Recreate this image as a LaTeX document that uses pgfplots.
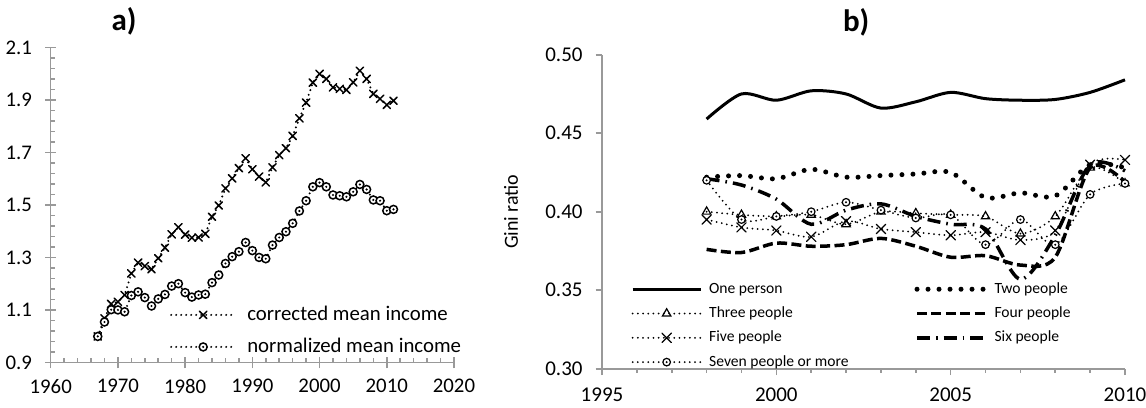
\documentclass[border=0pt]{standalone}
\usepackage{fontspec}
\setmainfont{Carlito}
\usepackage{pgfplots}
\usepackage{pgfplotstable}
\pgfplotsset{compat=1.18}
\pgfdeclareplotmark{odot}{%
  \pgfpathcircle{\pgfpointorigin}{\pgfplotmarksize}%
  \pgfusepathqfillstroke
  \pgfscope
  \pgfsetfillcolor{black}%
  \pgfpathcircle{\pgfpointorigin}{0.3\pgfplotmarksize}%
  \pgfusepathqfill
  \endpgfscope
}
\tikzset{
  leftdots/.style={line width=1.1pt, dash pattern=on 0pt off 2.5pt, line cap=round},
  smalldots/.style={line width=1pt, dash pattern=on 0pt off 2.6pt, line cap=round},
  bigdots/.style={line width=2.5pt, dash pattern=on 0pt off 5.5pt, line cap=round},
  bigdash/.style={line width=1.75pt, dash pattern=on 5pt off 2.2pt},
  dashdot/.style={line width=1.75pt, dash pattern=on 6.5pt off 3pt on 0.8pt off 3pt},
}
\pgfplotstableread{
year corr norm
1967 1.000 1.000
1968 1.069 1.055
1969 1.124 1.102
1970 1.132 1.101
1971 1.158 1.094
1972 1.240 1.156
1973 1.281 1.170
1974 1.268 1.148
1975 1.256 1.116
1976 1.298 1.143
1977 1.338 1.160
1978 1.389 1.192
1979 1.416 1.201
1980 1.388 1.167
1981 1.376 1.150
1982 1.377 1.158
1983 1.391 1.161
1984 1.456 1.205
1985 1.499 1.234
1986 1.564 1.278
1987 1.602 1.304
1988 1.641 1.323
1989 1.679 1.358
1990 1.637 1.327
1991 1.609 1.301
1992 1.587 1.296
1993 1.644 1.348
1994 1.691 1.377
1995 1.717 1.399
1996 1.764 1.431
1997 1.831 1.478
1998 1.891 1.517
1999 1.967 1.570
2000 2.000 1.586
2001 1.981 1.570
2002 1.949 1.539
2003 1.943 1.536
2004 1.939 1.532
2005 1.968 1.551
2006 2.012 1.579
2007 1.981 1.560
2008 1.924 1.520
2009 1.905 1.517
2010 1.882 1.479
2011 1.898 1.484
}\leftdata
\pgfplotstableread{
year one two three four five six seven
1998 0.459 0.422 0.400 0.376 0.395 0.421 0.420
1999 0.475 0.423 0.398 0.374 0.390 0.417 0.395
2000 0.471 0.421 0.397 0.380 0.388 0.408 0.397
2001 0.477 0.427 0.398 0.378 0.384 0.392 0.400
2002 0.475 0.422 0.392 0.379 0.394 0.401 0.406
2003 0.466 0.423 0.400 0.383 0.389 0.405 0.401
2004 0.470 0.424 0.399 0.378 0.387 0.397 0.396
2005 0.476 0.425 0.398 0.371 0.385 0.392 0.398
2006 0.472 0.409 0.397 0.372 0.387 0.389 0.379
2007 0.471 0.412 0.386 0.366 0.382 0.357 0.395
2008 0.4715 0.410 0.397 0.371 0.388 0.385 0.379
2009 0.476 0.430 0.428 0.428 0.430 0.430 0.411
2010 0.484 0.428 0.418 0.419 0.433 0.426 0.418
}\rightdata
\begin{document}
\begin{tikzpicture}
\path[use as bounding box] (0,0) rectangle (573pt,203.5pt);
\begin{axis}[
  at={(25.35pt,22.15pt)}, anchor=south west,
  scale only axis, width=201.65pt, height=157.5pt,
  xmin=1960, xmax=2020, ymin=0.9, ymax=2.1,
  xtick={1960,1970,1980,1990,2000,2010,2020},
  ytick={0.9,1.1,1.3,1.5,1.7,1.9,2.1},
  minor x tick num=4, minor y tick num=4,
  axis x line*=bottom, axis y line*=left,
  axis line style={color=black!40, line width=0.8pt},
  every tick/.style={color=black!40, line width=0.8pt},
  tick align=center,
  major tick length=5.6pt, minor tick length=2.2pt,
  minor x tick style={yshift=1.1pt},
  minor y tick style={xshift=1.1pt},
  tick label style={font=\fontsize{10.4}{12}\selectfont},
  /pgf/number format/assume math mode=true,
  xticklabel style={yshift=-2pt, /pgf/number format/set thousands separator={}},
  yticklabel style={xshift=-3pt, /pgf/number format/.cd, fixed, fixed zerofill, precision=1},
  title={\fontsize{15.5}{18}\selectfont\bfseries a)},
  title style={at={(0.182,1)}, anchor=center, yshift=7pt},
  legend style={at={(axis description cs:0.295,0.19)}, anchor=north west, draw=none, fill=none,
    font=\fontsize{10.4}{12}\selectfont, row sep=4.3pt, inner sep=0pt,
    nodes={inner sep=1pt, text height=7.5pt, text depth=2.2pt},
    /tikz/every odd column/.append style={column sep=4.5pt}},
  legend cell align=left,
  legend image code/.code={\draw[mark repeat=2,mark phase=2,#1] plot coordinates {(0pt,0pt) (16pt,0pt) (32pt,0pt)};},
  clip=false,
]
\addplot[black, leftdots, mark=x, mark size=2.6pt, mark options={solid, line width=0.75pt}] table[x=year, y=corr] {\leftdata};
\addlegendentry{corrected mean income}
\addplot[black, leftdots, mark=odot, mark size=2pt, mark options={solid, fill=white, line width=0.75pt}] table[x=year, y=norm] {\leftdata};
\addlegendentry{normalized mean income}
\end{axis}
\begin{axis}[
  at={(301pt,19.15pt)}, anchor=south west,
  scale only axis, width=261.5pt, height=157pt,
  xmin=1995, xmax=2010, ymin=0.30, ymax=0.50,
  xtick={1995,2000,2005,2010},
  ytick={0.30,0.35,0.40,0.45,0.50},
  minor x tick num=4,
  axis x line*=bottom, axis y line*=left,
  axis line style={color=black!40, line width=0.8pt},
  every tick/.style={color=black!40, line width=0.8pt},
  tick align=outside,
  major tick length=3.2pt, minor tick length=2pt,
  tick label style={font=\fontsize{10.5}{12}\selectfont},
  /pgf/number format/assume math mode=true,
  xticklabel style={yshift=-3pt, /pgf/number format/set thousands separator={}},
  yticklabel style={xshift=-3pt, /pgf/number format/.cd, fixed, fixed zerofill, precision=2},
  title={\fontsize{15.5}{18}\selectfont\bfseries b)},
  title style={at={(0.486,1)}, anchor=center, yshift=10.3pt},
  ylabel={Gini ratio},
  ylabel style={at={(axis description cs:-0.174,0.5)}, anchor=center, font=\fontsize{10}{12}\selectfont},
  legend columns=2,
  legend style={at={(axis description cs:0.055,0.284)}, anchor=north west, draw=none, fill=none,
    font=\fontsize{7.8}{9}\selectfont, row sep=2.85pt, inner sep=0pt,
    nodes={inner sep=1pt, text height=5.6pt, text depth=1.7pt},
    /tikz/every odd column/.append style={column sep=2.5pt},
    /tikz/every even column/.append style={column sep=32pt}},
  legend cell align=left,
  legend image code/.code={\draw[mark repeat=2,mark phase=2,#1] plot coordinates {(0pt,0pt) (17pt,0pt) (34pt,0pt)};},
  clip=false,
]
\addplot[black, line width=1.5pt, smooth] table[x=year, y=one] {\rightdata};
\addlegendentry{One person}
\addplot[black, bigdots, smooth] table[x=year, y=two] {\rightdata};
\addlegendentry{Two people}
\addplot[black, smalldots, smooth, mark=triangle, mark size=2.4pt, mark options={solid, fill=white, line width=0.6pt}] table[x=year, y=three] {\rightdata};
\addlegendentry{Three people}
\addplot[black, bigdash, smooth] table[x=year, y=four] {\rightdata};
\addlegendentry{Four people}
\addplot[black, smalldots, smooth, mark=x, mark size=3.3pt, mark options={solid, line width=0.6pt}] table[x=year, y=five] {\rightdata};
\addlegendentry{Five people}
\addplot[black, dashdot, smooth] table[x=year, y=six] {\rightdata};
\addlegendentry{Six people}
\addplot[black, smalldots, smooth, mark=odot, mark size=1.9pt, mark options={solid, fill=white, line width=0.6pt}] table[x=year, y=seven] {\rightdata};
\addlegendentry{Seven people or more}
\end{axis}
\end{tikzpicture}
\end{document}
